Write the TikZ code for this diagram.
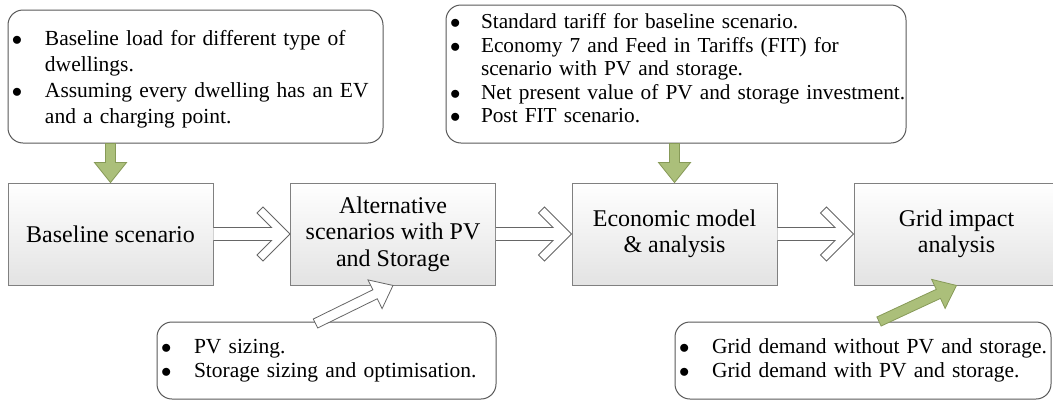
\documentclass[tikz,border=0pt]{standalone}
\usepackage{fontspec}
\setmainfont{LiberationSerif}[Extension=.ttf,UprightFont=*-Regular,BoldFont=*-Bold,ItalicFont=*-Italic,BoldItalicFont=*-BoldItalic]
\usetikzlibrary{calc}
\definecolor{leaf}{HTML}{ABBF7A}
\definecolor{leafedge}{HTML}{879A58}
\setlength{\parindent}{0pt}
\newcommand{\bul}{$\bullet$}
\begin{document}
\begin{tikzpicture}[x=1pt,y=-1pt,
		stage/.style={draw=gray,line width=0.9pt,top color=white,bottom color=gray!22,minimum width=205pt,minimum height=102pt,inner sep=0pt,align=center,font=\fontsize{24}{26.5}\selectfont},
		note/.style={draw=black!65,line width=1pt,rounded corners=15pt,fill=white,inner xsep=4pt,inner ysep=0pt,align=left,font=\fontsize{21.5}{24.5}\selectfont},
		block/.style={to path={($(\tikztostart)!5pt!90:(\tikztotarget)$) -- ($(\tikztotarget)!20pt!(\tikztostart)!5pt!90:(\tikztotarget)$) -- ($(\tikztotarget)!20pt!(\tikztostart)!16pt!90:(\tikztotarget)$) -- (\tikztotarget) -- ($(\tikztotarget)!20pt!(\tikztostart)!16pt!-90:(\tikztotarget)$) -- ($(\tikztotarget)!20pt!(\tikztostart)!5pt!-90:(\tikztotarget)$) -- ($(\tikztostart)!5pt!-90:(\tikztotarget)$) -- cycle}},
		feed/.style={block,draw=leafedge,fill=leaf,line width=0.8pt},
		push/.style={block,draw=gray!80!black,fill=white,line width=0.8pt},
		chevron/.style={draw=gray!80!black,fill=white,line width=0.8pt,to path={($(\tikztostart)+(0,-6.5)$) -- ($(\tikztotarget)+(-18.5,-6.5)$) -- ($(\tikztotarget)+(-33,-21)$) -- ($(\tikztotarget)+(-27,-27)$) -- (\tikztotarget) -- ($(\tikztotarget)+(-27,27)$) -- ($(\tikztotarget)+(-33,21)$) -- ($(\tikztotarget)+(-18.5,6.5)$) -- ($(\tikztostart)+(0,6.5)$)}},
		]
		\useasboundingbox (0,0) rectangle (1053,402);

		\node[note,text width=367pt,minimum height=133pt,font=\fontsize{21.5}{26}\selectfont](load) at (195.5,76.5) {\begin{tabular}{@{}p{33pt}@{}l@{}}
			\bul\rule{0pt}{24pt} & Baseline load for different type of\\
			     & dwellings.\\
			\bul & Assuming every dwelling has an EV\\
			     & and a charging point.
		\end{tabular}};
		\node[note,text width=452pt,minimum height=138pt,font=\fontsize{21.3}{23.5}\selectfont](tariff) at (676,74) {\begin{tabular}{@{}p{31pt}@{}l@{}}
			\bul & Standard tariff for baseline scenario.\\
			\bul & Economy 7 and Feed in Tariffs (FIT) for\\
			     & scenario with PV and storage.\\
			\bul & Net present value of PV and storage investment.\\
			\bul & Post FIT scenario.\rule[-13pt]{0pt}{0pt}
		\end{tabular}};
		\node[note,text width=331pt,minimum height=77pt](sizing) at (326.5,360.5) {\begin{tabular}{@{}p{33pt}@{}l@{}}
			\bul & PV sizing.\\
			\bul & Storage sizing and optimisation.
		\end{tabular}};
		\node[note,text width=368pt,minimum height=77pt](demand) at (863,360.5) {\begin{tabular}{@{}p{33pt}@{}l@{}}
			\bul & Grid demand without PV and storage.\\
			\bul & Grid demand with PV and storage.
		\end{tabular}};

		\node[stage](base) at (110.5,234) {Baseline scenario};
		\node[stage](alt)  at (393,234)   {Alternative\\scenarios with PV\\and Storage};
		\node[stage](econ) at (674.5,234) {Economic model\\\& analysis};
		\node[stage](grid) at (956.5,234) {Grid impact\\analysis};

		\draw[chevron] (base.east) to (alt.west);
		\draw[chevron] (alt.east)  to (econ.west);
		\draw[chevron] (econ.east) to (grid.west);

		\draw[feed] (load.south -| base)   to (base.north);
		\draw[feed] (tariff.south -| econ) to (econ.north);
		\draw[push] ($(sizing.north)+(-11,2)$) to (alt.south);
		\draw[feed] ($(demand.north)+(16,0)$)  to (grid.south);
\end{tikzpicture}
\end{document}
